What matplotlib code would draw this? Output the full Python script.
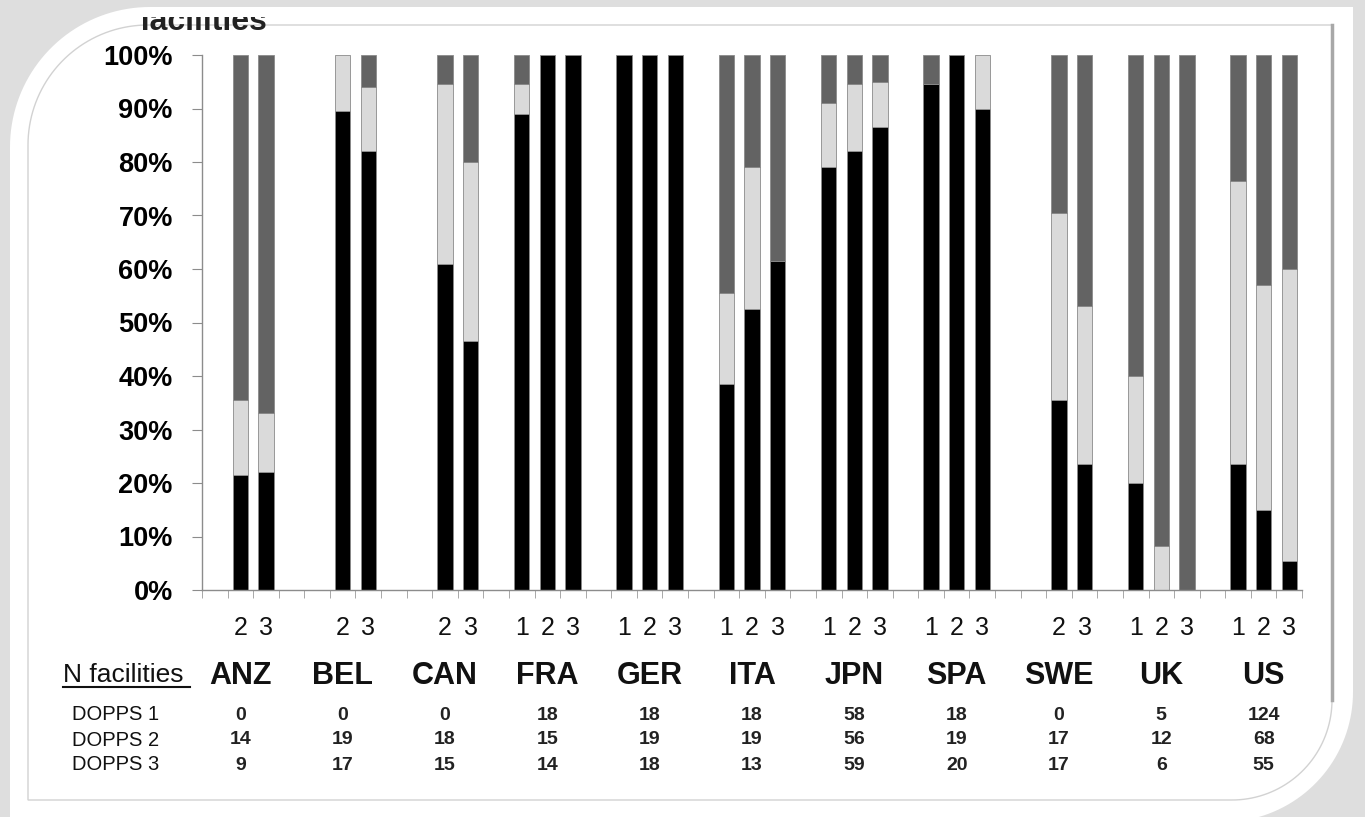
import matplotlib
matplotlib.use("Agg")

import numpy as np
import matplotlib.pyplot as plt
from matplotlib.patches import Polygon
from matplotlib.transforms import blended_transform_factory

plt.rcParams['font.family'] = ['Liberation Sans', 'DejaVu Sans']

W, H = 1365, 817

countries = ["ANZ", "BEL", "CAN", "FRA", "GER", "ITA", "JPN", "SPA", "SWE", "UK", "US"]
nan = np.nan

# percent of facilities per DOPPS phase (black / light grey, dark grey is the rest)
phase1_black = [nan, nan, nan, 89, 100, 38.5, 79, 94.5, nan, 20, 23.5]
phase1_light = [nan, nan, nan, 5.5, 0, 17, 12, 0, nan, 20, 53]
phase2_black = [21.5, 89.5, 61, 100, 100, 52.5, 82, 100, 35.5, 0, 15]
phase2_light = [14, 10.5, 33.5, 0, 0, 26.5, 12.5, 0, 35, 8.3, 42]
phase3_black = [22, 82, 46.5, 100, 100, 61.5, 86.5, 90, 23.5, 0, 5.5]
phase3_light = [11, 12, 33.5, 0, 0, 0, 8.5, 10, 29.5, 0, 54.5]

dopps1_n = [0, 0, 0, 18, 18, 18, 58, 18, 0, 5, 124]
dopps2_n = [14, 19, 18, 15, 19, 19, 56, 19, 17, 12, 68]
dopps3_n = [9, 17, 15, 14, 18, 13, 59, 20, 17, 6, 55]

BLACK = '#000000'
LIGHT = '#dadada'
DARK = '#636363'
EDGE = '#8a8a8a'


def two_corner_shape(x0, y0, x1, y1, r_tl, r_br, n=40):
    """rectangle (pixel coords, y down) with rounded top-left and bottom-right corners"""
    pts = []
    a = np.linspace(np.pi, 1.5 * np.pi, n)
    pts += list(zip(x0 + r_tl + r_tl * np.cos(a), y0 + r_tl + r_tl * np.sin(a)))
    pts.append((x1, y0))
    a = np.linspace(0, 0.5 * np.pi, n)
    pts += list(zip(x1 - r_br + r_br * np.cos(a), y1 - r_br + r_br * np.sin(a)))
    pts.append((x0, y1))
    return pts


fig = plt.figure(figsize=(W / 100, H / 100), dpi=100)
fig.patch.set_facecolor('#dedede')

# decorative frame
bg = fig.add_axes([0, 0, 1, 1], zorder=-10)
bg.set_xlim(0, W)
bg.set_ylim(H, 0)
bg.axis('off')
bg.add_patch(Polygon(two_corner_shape(10, 7, 1353, 822, 140, 130), closed=True,
                     facecolor='white', edgecolor='none'))
bg.add_patch(Polygon(two_corner_shape(28, 25, 1332, 800, 120, 100), closed=True,
                     facecolor='white', edgecolor='#d2d2d2', lw=1))
bg.plot([1332, 1332], [25, 700], color='#a8a8a8', lw=2.5)

# cut off heading at the top, only its lower part shows (clipped to a small strip)
strip = fig.add_axes([130 / W, 1 - 34 / H, 170 / W, 17 / H], zorder=-5)
strip.set_xlim(0, 170)
strip.set_ylim(17, 0)
strip.axis('off')
strip.text(10, 13, "facilities", fontsize=23, fontweight='bold', ha='left',
           va='baseline', color='#222222', clip_on=True)

ax = fig.add_axes([202 / W, 1 - 590 / H, 1100 / W, 535 / H])
ax.patch.set_alpha(0)

blacks = [phase1_black, phase2_black, phase3_black]
lights = [phase1_light, phase2_light, phase3_light]
for p in range(3):
    b = np.array(blacks[p], dtype=float)
    l = np.array(lights[p], dtype=float)
    d = 100 - b - l
    x = np.arange(len(countries)) * 4 + p
    ok = ~np.isnan(b)
    for vals, base, col in [(b, 0, BLACK), (l, b, LIGHT), (d, b + l, DARK)]:
        base = np.zeros_like(b) + base
        m = ok & (vals > 0)
        ax.bar(x[m], vals[m] / 100, bottom=base[m] / 100, width=0.6, color=col,
               edgecolor=EDGE, linewidth=0.6)

ax.set_xlim(-0.5, 42.5)
ax.set_ylim(0, 1)
ax.set_yticks(np.arange(0, 1.01, 0.1))
ax.set_yticklabels([f"{int(round(v * 100))}%" for v in np.arange(0, 1.01, 0.1)],
                   fontsize=19.5, fontweight='bold')
ax.set_xticks([])
ax.set_xticks(np.arange(-0.5, 43, 1), minor=True)
ax.tick_params(axis='y', direction='out', length=7, color='#8c8c8c', pad=14)
ax.tick_params(axis='x', which='minor', direction='out', length=6, color='#9a9a9a')
for s in ['top', 'right']:
    ax.spines[s].set_visible(False)
for s in ['left', 'bottom']:
    ax.spines[s].set_color('#8c8c8c')
    ax.spines[s].set_linewidth(1)

tr = blended_transform_factory(ax.transData, fig.transFigure)


def fy(py):
    return 1 - py / H


for i, c in enumerate(countries):
    for p in range(3):
        if not np.isnan(blacks[p][i]):
            ax.text(4 * i + p, fy(628), str(p + 1), transform=tr, ha='center', va='center',
                    fontsize=18, color='#111111')
    ax.text(4 * i + 1, fy(676), c, transform=tr, ha='center', va='center',
            fontsize=22, fontweight='bold', color='#111111')
    for row, vals in zip([715, 740, 765], [dopps1_n, dopps2_n, dopps3_n]):
        ax.text(4 * i + 1, fy(row), str(vals[i]), transform=tr, ha='center', va='center',
                fontsize=14, fontweight='bold', color='#222222')

fig.text(63 / W, fy(675), "N facilities", fontsize=19, ha='left', va='center', color='#111111')
fig.add_artist(plt.Line2D([63 / W, 190 / W], [fy(687), fy(687)], color='#111111', lw=1.5))
for row, lab in zip([715, 740, 765], ["DOPPS 1", "DOPPS 2", "DOPPS 3"]):
    fig.text(72 / W, fy(row), lab, fontsize=14.5, ha='left', va='center', color='#111111')

fig.savefig("out.png", dpi=100, facecolor=fig.get_facecolor())
plt.close(fig)
